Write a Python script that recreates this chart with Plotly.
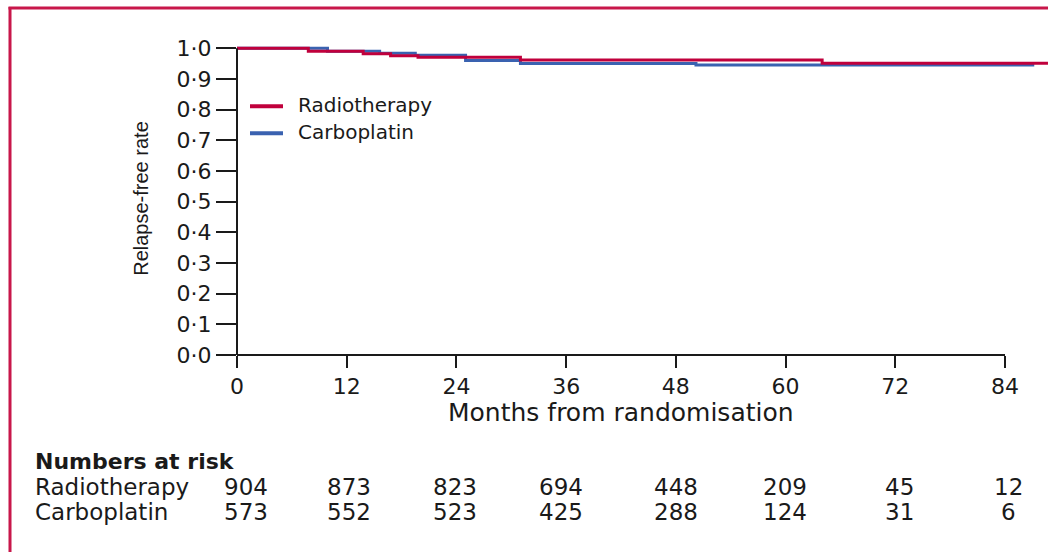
import plotly.graph_objects as go

# Kaplan-Meier relapse-free estimates (step changes), months from randomisation
radio_months = [0, 7.8, 13.8, 16.8, 19.8, 31.0, 64.0, 88.7]
radio_rate = [1.000, 0.990, 0.982, 0.975, 0.970, 0.961, 0.951, 0.951]

carbo_months = [0, 9.9, 15.6, 19.5, 25.0, 31.0, 50.2, 87.2]
carbo_rate = [1.000, 0.990, 0.983, 0.977, 0.960, 0.950, 0.945, 0.945]

# Numbers at risk
risk_months = [0, 12, 24, 36, 48, 60, 72, 84]
risk_radio = [904, 873, 823, 694, 448, 209, 45, 12]
risk_carbo = [573, 552, 523, 425, 288, 124, 31, 6]

y_ticks = [i / 10 for i in range(11)]
y_ticktext = [f"{v:.1f}".replace(".", "\u00b7") for v in y_ticks]

RED = "#c0003c"
BLUE = "#3a62b0"
FRAME = "#c8174a"
INK = "#1a1a1a"
FONT = "DejaVu Sans"

W, H = 1048, 552
ML, MR, MT, MB = 237, 0, 41.5, 196.5
PW, PH = W - ML - MR, H - MT - MB
X0, X1 = 0, 84 * PW / 768
Y0, Y1 = 0, 1.02


def px_to_paper_x(px):
    return (px - ML) / PW


def px_to_paper_y(py):
    return (H - MB - py) / PH


def data_to_paper_x(x):
    return (x - X0) / (X1 - X0)


def data_to_paper_y(y):
    return (y - Y0) / (Y1 - Y0)


fig = go.Figure()
fig.add_trace(go.Scatter(x=carbo_months, y=carbo_rate, mode="lines", name="Carboplatin",
                         line=dict(color=BLUE, width=3, shape="hv"), showlegend=False))
fig.add_trace(go.Scatter(x=radio_months, y=radio_rate, mode="lines", name="Radiotherapy",
                         line=dict(color=RED, width=3, shape="hv"), showlegend=False))

shapes = [
    # axis lines (y axis up to 1.0, x axis up to 84 months)
    dict(type="line", xref="paper", yref="paper",
         x0=data_to_paper_x(0), x1=data_to_paper_x(0),
         y0=data_to_paper_y(0), y1=data_to_paper_y(1.0),
         line=dict(color=INK, width=2)),
    dict(type="line", xref="paper", yref="paper",
         x0=data_to_paper_x(0), x1=data_to_paper_x(84),
         y0=data_to_paper_y(0), y1=data_to_paper_y(0),
         line=dict(color=INK, width=2)),
    # page frame
    dict(type="line", xref="paper", yref="paper",
         x0=px_to_paper_x(10), x1=px_to_paper_x(10),
         y0=px_to_paper_y(6.5), y1=px_to_paper_y(560),
         line=dict(color=FRAME, width=3)),
    dict(type="line", xref="paper", yref="paper",
         x0=px_to_paper_x(8.5), x1=px_to_paper_x(1060),
         y0=px_to_paper_y(7.5), y1=px_to_paper_y(7.5),
         line=dict(color=FRAME, width=3)),
]

annotations = []

# legend keys
for label, color, py in (("Radiotherapy", RED, 106), ("Carboplatin", BLUE, 133)):
    shapes.append(dict(type="line", xref="paper", yref="paper",
                       x0=px_to_paper_x(250), x1=px_to_paper_x(283),
                       y0=px_to_paper_y(py), y1=px_to_paper_y(py),
                       line=dict(color=color, width=4)))
    annotations.append(dict(text=label, xref="paper", yref="paper",
                            x=px_to_paper_x(296), y=px_to_paper_y(py - 1),
                            xanchor="left", yanchor="middle", showarrow=False,
                            font=dict(family=FONT, size=20, color=INK)))

# x axis title, centred under the 0-84 month axis
annotations.append(dict(text="Months from randomisation", xref="x", yref="paper",
                        x=42, y=px_to_paper_y(413), xanchor="center", yanchor="middle",
                        showarrow=False, font=dict(family=FONT, size=25, color=INK)))

# numbers-at-risk table
annotations += [
    dict(text="<b>Numbers at risk</b>", xref="paper", yref="paper",
         x=px_to_paper_x(33), y=px_to_paper_y(462), xanchor="left", yanchor="middle",
         showarrow=False, font=dict(family=FONT, size=22, color=INK)),
    dict(text="Radiotherapy", xref="paper", yref="paper",
         x=px_to_paper_x(33), y=px_to_paper_y(488), xanchor="left", yanchor="middle",
         showarrow=False, font=dict(family=FONT, size=23, color=INK)),
    dict(text="Carboplatin", xref="paper", yref="paper",
         x=px_to_paper_x(33), y=px_to_paper_y(513), xanchor="left", yanchor="middle",
         showarrow=False, font=dict(family=FONT, size=23, color=INK)),
]
col_shift = [9, 2, -1, -5, 0, -1, 4, 3]
for row_vals, row_y in ((risk_radio, 488), (risk_carbo, 513)):
    for m, n, dx in zip(risk_months, row_vals, col_shift):
        annotations.append(dict(
            text=str(n), xref="x", yref="paper", x=m, y=px_to_paper_y(row_y),
            xanchor="center", yanchor="middle", xshift=dx, showarrow=False,
            font=dict(family=FONT, size=23, color=INK)))

fig.update_layout(
    width=W, height=H,
    margin=dict(l=ML, r=MR, t=MT, b=MB, pad=0),
    paper_bgcolor="white", plot_bgcolor="white",
    showlegend=False,
    xaxis=dict(range=[X0, X1], tickvals=risk_months, ticks="outside", ticklen=12,
               tickwidth=2, tickcolor=INK, showgrid=False, zeroline=False, showline=False,
               tickfont=dict(family=FONT, size=22, color=INK)),
    yaxis=dict(range=[Y0, Y1], tickvals=y_ticks, ticktext=y_ticktext, ticks="outside",
               ticklen=20, tickwidth=2, tickcolor=INK, showgrid=False, zeroline=False,
               showline=False,
               tickfont=dict(family=FONT, size=22, color=INK),
               title=dict(text="Relapse-free rate", standoff=22,
                          font=dict(family="Liberation Sans", size=20, color=INK))),
    shapes=shapes,
    annotations=annotations,
)

fig.write_html("out.html")
